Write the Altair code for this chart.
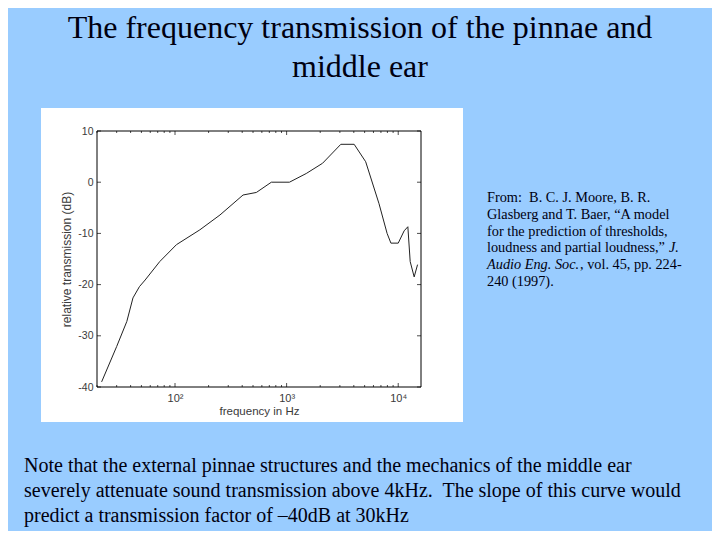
import altair as alt
import pandas as pd

# ---- data ----
freq_hz = [22, 30, 37, 42, 48, 54, 73, 103, 167, 253, 407, 536, 730, 1060, 1500,
           2100, 3060, 4030, 5110, 6730, 7950, 8600, 10000, 11300, 12200, 12800,
           13900, 14900]
rel_db = [-39.0, -32.1, -27.2, -22.6, -20.4, -19.1, -15.5, -12.2, -9.3, -6.4, -2.5,
          -2.0, 0.0, 0.0, 1.7, 3.7, 7.4, 7.4, 4.0, -4.2, -10.0, -11.9, -11.9, -9.5,
          -8.7, -15.5, -18.5, -16.1]
y_ticks = [-40, -30, -20, -10, 0, 10]
x_ticks = [100, 1000, 10000]
x_minor = [k * 10 ** n for n in range(1, 5) for k in range(2, 10)
           if 20 <= k * 10 ** n <= 16000]

title_lines = ["The frequency transmission of the pinnae and", "middle ear"]
cite_lines = [
    "From:\u00a0 B. C. J. Moore, B. R.",
    "Glasberg and T. Baer, \u201cA model",
    "for the prediction of thresholds,",
    "loudness and partial loudness,\u201d ",
    "",
    "240 (1997).",
]
cite_italic_4 = "J."
cite_italic_5 = "Audio Eng. Soc."
cite_rest_5 = ", vol. 45, pp. 224-"
note_lines = [
    "Note that the external pinnae structures and the mechanics of the middle ear",
    "severely attenuate sound transmission above 4kHz.\u00a0 The slope of this curve would",
    "predict a transmission factor of \u201340dB at 30kHz",
]

W, H = 324, 256
BG = "#99CCFF"
SERIF = "Liberation Serif"
SANS = "Liberation Sans"

xscale = alt.Scale(type="log", domain=[20, 16000], nice=False)
yscale = alt.Scale(domain=[-40, 10], nice=False)
xaxis = alt.Axis(values=x_ticks, ticks=False, domain=False, grid=False, zindex=1,
                 labelExpr="datum.value == 100 ? '10\u00b2' : datum.value == 1000 ? '10\u00b3' : '10\u2074'",
                 labelFont=SANS, labelFontSize=11, labelColor="#3a3a3a", labelPadding=5,
                 titleFont=SANS, titleFontSize=11.5, titleColor="#3a3a3a",
                 titleFontWeight="normal", titlePadding=2)
yaxis = alt.Axis(values=y_ticks, ticks=False, domain=False, grid=False, zindex=1,
                 labelExpr="'' + datum.value",
                 labelFont=SANS, labelFontSize=10.5, labelColor="#3a3a3a", labelPadding=4,
                 titleFont=SANS, titleFontSize=12, titleColor="#3a3a3a",
                 titleFontWeight="normal", titlePadding=4)
XT = "frequency in Hz"
YT = "relative transmission (dB)"

one = pd.DataFrame({"a": [0]})
df = pd.DataFrame({"f": freq_hz, "db": rel_db})

white_box = alt.Chart(one).mark_rect(color="white").encode(
    x=alt.value(-56), x2=alt.value(366), y=alt.value(-23), y2=alt.value(291))

curve = alt.Chart(df).mark_line(color="#222", strokeWidth=1).encode(
    x=alt.X("f:Q", scale=xscale, axis=xaxis, title=XT),
    y=alt.Y("db:Q", scale=yscale, axis=yaxis, title=YT),
)

ydf = pd.DataFrame({"db": y_ticks})
xdf = pd.DataFrame({"f": x_ticks})
xmdf = pd.DataFrame({"f": x_minor})


def ytick(xpos):
    return alt.Chart(ydf).mark_tick(color="black", size=4, thickness=1).encode(
        y=alt.Y("db:Q", scale=yscale, axis=yaxis, title=YT), x=alt.value(xpos))


def xtick(data, ypos, size):
    return alt.Chart(data).mark_tick(color="black", size=size, thickness=1).encode(
        x=alt.X("f:Q", scale=xscale, axis=xaxis, title=XT), y=alt.value(ypos))


frame = alt.Chart(one).mark_rect(fillOpacity=0, stroke="black", strokeWidth=1).encode(
    x=alt.value(0), x2=alt.value(W), y=alt.value(0), y2=alt.value(H))


def text(s, x, y, size, align="left", style="normal"):
    return alt.Chart(one).mark_text(text=s, font=SERIF, fontSize=size, align=align,
                                    baseline="alphabetic", fontStyle=style,
                                    color="#000010").encode(
        x=alt.value(x), y=alt.value(y))


layers = [white_box, curve, ytick(2), ytick(W - 2),
          xtick(xdf, H - 2, 4), xtick(xdf, 2, 4),
          xtick(xmdf, H - 1, 2), xtick(xmdf, 1, 2), frame]

# title
layers.append(text(title_lines[0], 263, -93, 32, align="center"))
layers.append(text(title_lines[1], 263, -54, 32, align="center"))

# citation
cx, cy0, cdy, cfs = 390, 71, 16.8, 14.3
for i, s in enumerate(cite_lines):
    if s:
        layers.append(text(s, cx, cy0 + i * cdy, cfs))
layers.append(text(cite_italic_4, cx + 182, cy0 + 3 * cdy, cfs, style="italic"))
layers.append(text(cite_italic_5, cx, cy0 + 4 * cdy, cfs, style="italic"))
layers.append(text(cite_rest_5, cx + 93, cy0 + 4 * cdy, cfs))

# note
for i, s in enumerate(note_lines):
    layers.append(text(s, -73, 341 + i * 25, 20))

chart = alt.layer(*layers).properties(
    width=W, height=H,
    autosize=alt.AutoSizeParams(type="none"),
    padding={"left": 89, "top": 123, "right": 291, "bottom": 144},
    background=BG,
).configure_view(stroke=None)

chart.save("out.html", embed_options={"renderer": "svg", "actions": False})
